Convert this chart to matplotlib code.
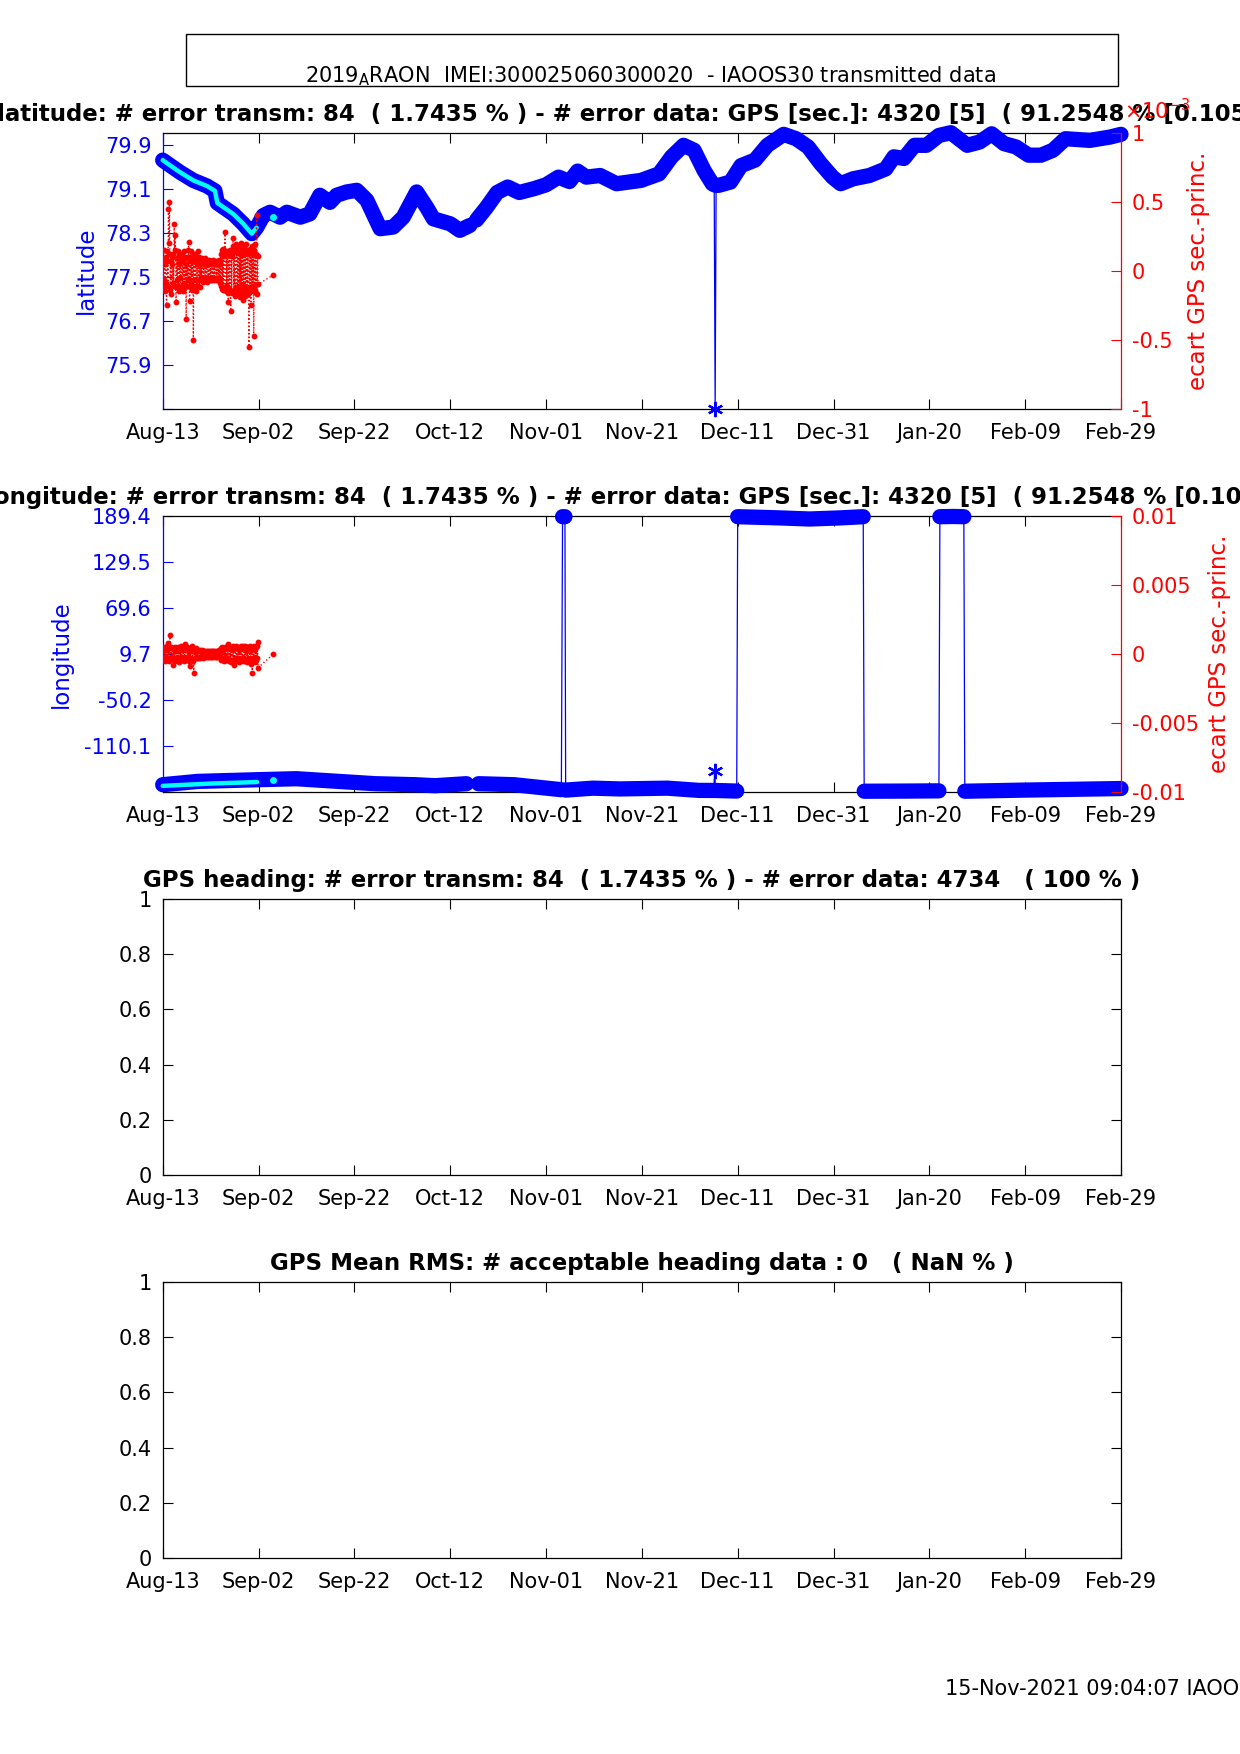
import numpy as np
import matplotlib
matplotlib.use('Agg')
import matplotlib.pyplot as plt
from matplotlib.patches import Rectangle

plt.rcParams['font.family'] = ['DejaVu Sans']
plt.rcParams['axes.unicode_minus'] = False

# ---------------- data ----------------
# days counted from 2019-08-13
xtick_days = [0, 20, 40, 60, 80, 100, 120, 140, 160, 180, 200]
xtick_labels = ['Aug-13', 'Sep-02', 'Sep-22', 'Oct-12', 'Nov-01', 'Nov-21',
                'Dec-11', 'Dec-31', 'Jan-20', 'Feb-09', 'Feb-29']

# principal GPS latitude (NaN = transmission gap)
lat_days = [0.0, 0.8, 3.6, 6.4, 9.2, 10.9, 11.4, 14.7, 16.8, 18.6, 19.6, 21.0, 22.4,
            24.5, 25.9, 28.7, 30.7, 32.8, 34.9, 36.3, 38.4, 40.5, 42.6, 45.4, 48.1,
            50.2, 53.0, 55.1, 56.5, 60.0, 62.0, 64.1, np.nan, 65.5, 67.6, 69.8, 72.0,
            74.4, 77.5, 80.0, 82.6, 84.9, 86.6, 88.4, 91.3, 94.7, 99.8, 103.6, 106.2,
            108.7, 110.9, 113.0, 114.7, 115.1, 115.5, 116.0, 118.5, 120.7, 123.6,
            126.2, 129.6, 132.2, 134.7, 137.3, 139.8, 141.5, 144.1, 147.5, 150.9,
            152.6, 154.7, 156.9, 159.4, 162.0, 164.5, 167.9, 170.5, 173.0, 175.6,
            178.1, 180.7, 183.3, 185.8, 188.4, 193.5, 197.7, 200.0]
lat_vals = [79.63, 79.58, 79.41, 79.26, 79.16, 79.07, 78.85, 78.65, 78.47, 78.29, 78.40,
            78.62, 78.68, 78.59, 78.68, 78.59, 78.65, 78.99, 78.86, 78.99, 79.05, 79.08,
            78.90, 78.38, 78.41, 78.59, 79.05, 78.77, 78.56, 78.47, 78.35, 78.44, np.nan,
            78.54, 78.77, 79.04, 79.14, 79.04, 79.11, 79.18, 79.32, 79.24, 79.43, 79.32,
            79.35, 79.20, 79.26, 79.38, 79.69, 79.90, 79.81, 79.44, 79.20, 79.18, 79.17,
            79.17, 79.23, 79.53, 79.63, 79.90, 80.10, 80.02, 79.87, 79.57, 79.32, 79.20,
            79.29, 79.35, 79.47, 79.69, 79.66, 79.90, 79.90, 80.08, 80.13, 79.90, 79.96,
            80.11, 79.93, 79.87, 79.72, 79.72, 79.81, 80.02, 79.99, 80.05, 80.10]
lat_bad_days = [115.3]
lat_bad_vals = [75.10]

# secondary GPS latitude
lat2_days = [0.0, 0.8, 3.6, 6.4, 9.2, 10.9, 11.4, 14.7, 16.8, 18.6, 19.6]
lat2_vals = [79.63, 79.58, 79.41, 79.26, 79.16, 79.07, 78.85, 78.65, 78.47, 78.29, 78.40]
lat2_dot_days = [23.1]
lat2_dot_vals = [78.60]

# principal GPS longitude
lon_days = [0.0, 7.3, 19.7, 27.9, 36.2, 44.4, 52.7, 56.8, 63.4, np.nan, 65.9, 73.3, 83.2,
            83.45, 83.95, 84.1, 89.8, 95.4, 105.3, 111.9, 115.0, 115.4, 119.8,
            120.0, 128.5, 135.0, 141.6, 146.2, 146.4, 155.0, 162.0,
            162.2, 165.0, 167.2, 167.4, 180.0, 190.0, 200.0]
lon_vals = [-160.5, -156.2, -154.0, -152.7, -156.0, -159.2, -160.5, -161.8, -159.2, np.nan,
            -159.2, -160.5, -167.0, 188.5, 188.5, -167.5, -165.0, -166.0, -165.0, -167.9,
            -168.0, -168.0, -168.8, 188.5, 187.0, 185.5, 187.0, 188.5, -169.0, -168.8,
            -168.5, 188.5, 188.8, 188.5, -169.0, -167.5, -166.5, -165.5]
lon_bad_days = [115.2]
lon_bad_vals = [-143.2]

lon2_days = [0.0, 5.0, 10.0, 15.0, 19.7]
lon2_vals = [-162.0, -160.5, -159.0, -158.0, -157.0]
lon2_dot_days = [23.1]
lon2_dot_vals = [-155.0]

# secondary - principal time difference: GPS fixes every 0.1 day from Aug-13
diff_days = [i / 10 for i in range(200)] + [23.1]

# latitude panel, x 1e-3 s
dlat_vals = [
    0.09, -0.12, 0.15, -0.07, 0.05, -0.15, 0.10, -0.09, -0.25, 0.07,
    0.14, -0.11, 0.45, 0.20, 0.50, 0.12, -0.14, 0.07, -0.17, 0.10,
    0.05, -0.09, 0.12, -0.11, 0.34, 0.15, 0.26, -0.12, -0.23, 0.09,
    -0.07, 0.14, -0.11, 0.05, -0.15, 0.12, -0.05, 0.10, -0.14, 0.07,
    0.12, -0.11, 0.07, -0.15, 0.14, -0.09, 0.10, -0.12, 0.05, -0.35,
    0.09, -0.11, 0.15, -0.07, 0.21, 0.10, -0.22, 0.07, -0.12, 0.14,
    -0.09, 0.10, -0.14, 0.07, -0.50, 0.12, -0.11, 0.09, -0.07, 0.12,
    -0.15, 0.09, 0.05, -0.11, 0.14, -0.07, 0.10, -0.12, 0.07, -0.05,
    0.08, -0.07, 0.09, -0.05, 0.07, -0.08, 0.05, 0.08, -0.07, 0.09,
    -0.05, 0.07, -0.08, 0.05, 0.07, -0.07, 0.08, -0.05, 0.07, -0.07,
    0.05, -0.07, 0.07, -0.05, 0.08, -0.07, 0.05, -0.05, 0.07, -0.07,
    0.05, 0.07, -0.05, 0.05, -0.07, 0.07, -0.05, 0.08, -0.07, 0.05,
    -0.09, 0.12, -0.11, 0.15, -0.13, 0.16, -0.14, 0.11, -0.12, 0.14,
    0.28, 0.13, -0.15, 0.12, -0.11, 0.14, -0.16, -0.23, 0.12, -0.13,
    0.15, -0.14, -0.29, 0.13, -0.16, 0.11, 0.18, 0.24, -0.15, 0.14,
    -0.18, 0.16, -0.12, 0.15, 0.19, -0.17, 0.13, -0.14, 0.18, -0.12,
    0.16, -0.19, 0.14, -0.13, 0.20, -0.16, 0.12, -0.21, 0.15, -0.11,
    0.17, -0.18, 0.14, -0.15, 0.19, -0.13, 0.12, -0.17, 0.15, -0.14,
    -0.55, 0.14, -0.12, 0.16, -0.25, 0.13, -0.15, 0.18, -0.11, 0.12,
    -0.47, 0.15, -0.14, 0.19, -0.16, 0.12, 0.40, -0.17, 0.11, -0.10,
    -0.03]

# longitude panel, x 1e-3 s
dlon_vals = [
    0.2, -0.4, 0.5, -0.3, 0.3, -0.5, 0.4, -0.2, 0.6, -0.4,
    0.3, -0.3, 0.8, -0.5, 0.4, 1.4, -0.3, 0.5, -0.2, 0.4,
    -0.3, 0.4, -0.8, 0.3, -0.4, 0.5, -0.5, 0.3, -0.3, 0.4,
    -0.4, 0.2, 0.5, -0.3, 0.4, -0.6, 0.3, -0.4, 0.6, -0.2,
    0.3, -0.4, 0.5, -0.3, 0.4, -0.5, 0.7, -0.3, 0.4, -0.4,
    -0.3, 0.5, -0.2, 0.4, -0.5, 0.3, -0.9, 0.4, -0.3, 0.2,
    0.3, 0.6, -0.4, 0.3, -0.5, -1.35, 0.4, -0.3, 0.3, -0.2,
    0.4, -0.3, 0.2, -0.3, 0.3, -0.2, 0.2, -0.3, 0.3, -0.2,
    0.2, -0.2, 0.3, -0.2, 0.2, -0.3, 0.2, -0.1, 0.2, -0.2,
    0.1, -0.2, 0.2, -0.1, 0.2, -0.2, 0.1, -0.2, 0.2, -0.1,
    0.2, -0.2, 0.1, -0.2, 0.2, -0.1, 0.2, -0.2, 0.1, -0.1,
    0.2, -0.2, 0.1, -0.2, 0.2, -0.1, 0.2, -0.2, 0.3, -0.2,
    0.3, -0.4, 0.4, -0.3, 0.5, -0.4, 0.3, -0.5, 0.4, -0.3,
    0.5, -0.4, 0.4, -0.3, 0.5, -0.4, 0.7, -0.3, 0.4, -0.5,
    0.5, -0.4, 0.4, -0.6, 0.3, -0.5, 0.6, -0.4, 0.5, -0.8,
    0.4, -0.3, 0.6, -0.5, 0.4, -0.3, 0.5, 0.5, -0.4, 0.3,
    -0.6, 0.4, -0.5, 0.6, -0.4, 0.5, -0.3, 0.6, -0.5, 0.4,
    -0.4, 0.6, -0.5, 0.3, -0.4, 0.5, -0.6, 0.4, -0.3, 0.5,
    -0.5, 0.4, -0.4, 0.6, -0.7, 0.3, -0.4, -1.35, 0.5, -0.3,
    0.6, -0.5, 0.4, -0.6, 0.5, -0.4, 0.6, -0.3, 0.9, -1.0,
    0.0]

lat_ticks = [75.1, 75.9, 76.7, 77.5, 78.3, 79.1, 79.9]
lat_ticklabels = ['', '75.9', '76.7', '77.5', '78.3', '79.1', '79.9']
lon_ticks = [-170.0, -110.1, -50.2, 9.7, 69.6, 129.5, 189.4]
lon_ticklabels = ['', '-110.1', '-50.2', '9.7', '69.6', '129.5', '189.4']
dlat_ticks = [-1, -0.5, 0, 0.5, 1]
dlat_ticklabels = ['-1', '-0.5', '0', '0.5', '1']
dlon_ticks = [-0.01, -0.005, 0, 0.005, 0.01]
dlon_ticklabels = ['-0.01', '-0.005', '0', '0.005', '0.01']
unit_ticks = [0, 0.2, 0.4, 0.6, 0.8, 1.0]
unit_ticklabels = ['0', '0.2', '0.4', '0.6', '0.8', '1']

title_lat = ('GPS latitude: # error transm: 84  ( 1.7435 % ) - # error data: GPS [sec.]: '
             '4320 [5]  ( 91.2548 % [0.10541 %]  )')
title_lon = ('GPS longitude: # error transm: 84  ( 1.7435 % ) - # error data: GPS [sec.]: '
             '4320 [5]  ( 91.2548 % [0.10541 %]  )')
title_head = 'GPS heading: # error transm: 84  ( 1.7435 % ) - # error data: 4734   ( 100 % )'
title_rms = 'GPS Mean RMS: # acceptable heading data : 0   ( NaN % )'
suptitle = r'2019$_{\mathrm{A}}$RAON  IMEI:300025060300020  - IAOOS30 transmitted data'
footer = '15-Nov-2021 09:04:07 IAOOS'

# ---------------- helpers ----------------
BLUE, RED, CYAN = (0, 0, 1), (1, 0, 0), (0, 1, 1)
TICK_FS, LAB_FS, TIT_FS = 15, 16.5, 16.5
TLEN = 7
ASTER = (6, 2, 0)


def style_x(ax):
    ax.set_xlim(0, 200)
    ax.set_xticks(xtick_days)
    ax.set_xticklabels(xtick_labels)
    ax.tick_params(axis='x', direction='in', top=True, bottom=True, length=TLEN,
                   width=0.8, labelsize=TICK_FS, pad=10.0, colors='black')


def broken(days, vals, jump=180.0):
    d, v = [], []
    for i in range(len(days)):
        if i > 0 and abs(vals[i] - vals[i - 1]) > jump:
            d.append(np.nan)
            v.append(np.nan)
        d.append(days[i])
        v.append(vals[i])
    return np.array(d), np.array(v)


def thin(days, vals, bdays, bvals):
    d = np.concatenate([np.array(days, float), np.array(bdays, float)])
    v = np.concatenate([np.array(vals, float), np.array(bvals, float)])
    m = ~np.isnan(d)
    d, v = d[m], v[m]
    o = np.argsort(d)
    return d[o], v[o]


def geo_panel(ax, days, vals, bdays, bvals, d2, v2, dd2, dv2, ddays, dvals,
              ylim, yticks, yticklabels, ylabel, rlim, rticks, rticklabels,
              title, band_lw, lab_x, rlab_x):
    style_x(ax)
    ax.set_ylim(*ylim)
    ax.set_yticks(yticks)
    ax.set_yticklabels(yticklabels)
    ax.tick_params(axis='y', direction='in', left=True, right=True, length=TLEN,
                   width=0.8, labelsize=TICK_FS, pad=8.0, colors=BLUE)
    for s in ['top', 'bottom']:
        ax.spines[s].set_color('black')
    ax.spines['left'].set_color(BLUE)
    ax.spines['right'].set_visible(False)
    for s in ax.spines.values():
        s.set_linewidth(0.9)

    td, tv = thin(days, vals, bdays, bvals)
    ax.plot(td, tv, color=BLUE, lw=0.9, clip_on=False, zorder=2)
    bd, bv = broken(days, vals)
    ax.plot(bd, bv, color=BLUE, lw=band_lw, solid_capstyle='round',
            solid_joinstyle='round', clip_on=False, zorder=3)
    ax.plot(bdays, bvals, ls='none', marker=ASTER, ms=11, mew=1.6, mfc=BLUE, mec=BLUE,
            clip_on=False, zorder=3)
    ax.plot(d2, v2, color=CYAN, lw=3.2, solid_capstyle='round', clip_on=False, zorder=4)
    ax.plot(dd2, dv2, ls='none', marker='o', ms=4, mfc=CYAN, mec=CYAN, zorder=4)
    ax.set_ylabel(ylabel, color=BLUE, fontsize=LAB_FS)
    ax.yaxis.set_label_coords(lab_x, 0.5)
    ax.set_title(title, fontsize=TIT_FS, fontweight='bold', pad=8.4)

    ax2 = ax.twinx()
    ax2.set_xlim(0, 200)
    ax2.set_ylim(*rlim)
    ax2.set_yticks(rticks)
    ax2.set_yticklabels(rticklabels)
    ax2.tick_params(axis='y', direction='in', length=TLEN, width=0.8,
                    labelsize=TICK_FS, pad=8.0, colors=RED)
    for s in ['left', 'top', 'bottom']:
        ax2.spines[s].set_visible(False)
    ax2.spines['right'].set_color(RED)
    ax2.spines['right'].set_linewidth(0.9)
    ax2.plot(ddays, dvals, color=RED, lw=1.0, ls=':', marker='o', ms=3.2,
             mfc=RED, mec=RED, zorder=5)
    ax2.set_ylabel('ecart GPS sec.-princ.', color=RED, fontsize=LAB_FS)
    ax2.yaxis.set_label_coords(rlab_x, 0.5)
    return ax2


def empty_panel(ax, title):
    style_x(ax)
    ax.set_ylim(0, 1)
    ax.set_yticks(unit_ticks)
    ax.set_yticklabels(unit_ticklabels)
    ax.tick_params(axis='y', direction='in', left=True, right=True, length=TLEN,
                   width=0.8, labelsize=TICK_FS, pad=8.0, colors='black')
    for s in ax.spines.values():
        s.set_linewidth(0.9)
    ax.set_title(title, fontsize=TIT_FS, fontweight='bold', pad=8.4)


# ---------------- figure ----------------
fig = plt.figure(figsize=(12.4, 17.54), dpi=100)
L, W, H = 0.13121, 0.77282, 0.15735
bottoms = [0.7670, 0.54846, 0.33010, 0.11174]

ax1 = fig.add_axes([L, bottoms[0], W, H])
geo_panel(ax1, lat_days, lat_vals, lat_bad_days, lat_bad_vals, lat2_days, lat2_vals,
          lat2_dot_days, lat2_dot_vals, diff_days, dlat_vals,
          (75.1, 80.13), lat_ticks, lat_ticklabels, 'latitude',
          (-1, 1), dlat_ticks, dlat_ticklabels, title_lat, 11.0, -0.0675, 1.0689)
fig.text(1124 / 1240, 1 - 119.5 / 1754, r'$\times$10$^{-3}$', color=RED,
         fontsize=TICK_FS, va='baseline', ha='left')

ax2 = fig.add_axes([L, bottoms[1], W, H])
geo_panel(ax2, lon_days, lon_vals, lon_bad_days, lon_bad_vals, lon2_days, lon2_vals,
          lon2_dot_days, lon2_dot_vals, diff_days, [v * 1e-3 for v in dlon_vals],
          (-170.0, 189.4), lon_ticks, lon_ticklabels, 'longitude',
          (-0.01, 0.01), dlon_ticks, dlon_ticklabels, title_lon, 11.0, -0.0934, 1.0911)

ax3 = fig.add_axes([L, bottoms[2], W, H])
empty_panel(ax3, title_head)
ax4 = fig.add_axes([L, bottoms[3], W, H])
empty_panel(ax4, title_rms)

# header box and text
fig.add_artist(Rectangle((185.9 / 1240, 1 - 86.0 / 1754), (1117.9 - 185.9) / 1240,
                         (86.0 - 34.3) / 1754, transform=fig.transFigure, fill=False,
                         edgecolor='black', lw=1.0))
fig.text(650 / 1240, 1 - 82.7 / 1754, suptitle, ha='center', va='baseline',
         fontsize=TICK_FS)
fig.text(945 / 1240, 1 - 1689 / 1754, footer, ha='left', va='center', fontsize=TICK_FS)

fig.savefig('out.png', dpi=100)
